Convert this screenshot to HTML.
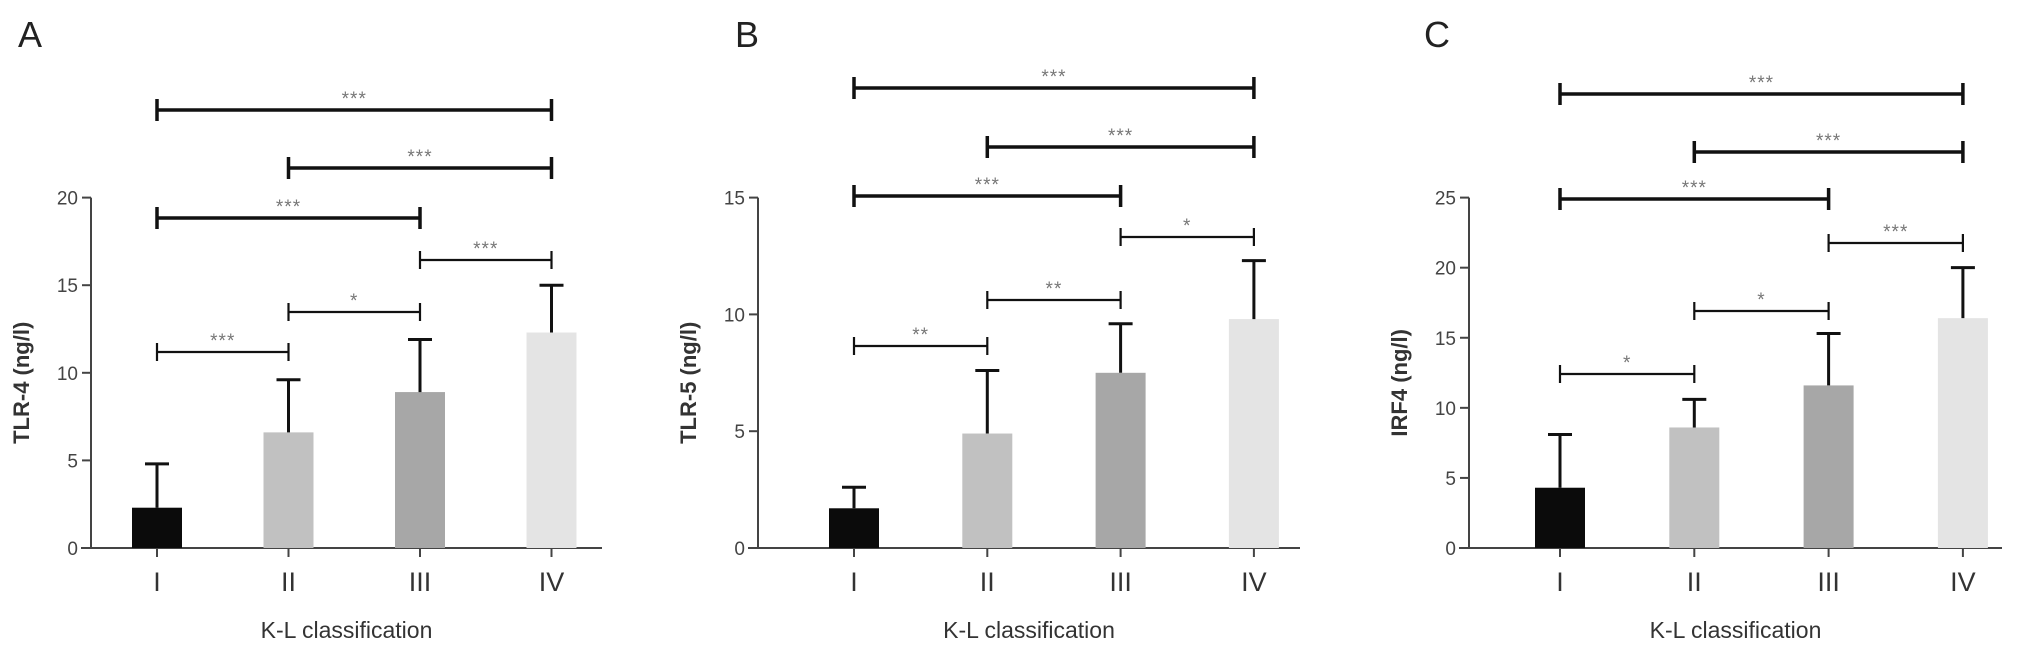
<!DOCTYPE html>
<html><head><meta charset="utf-8">
<style>
html,body{margin:0;padding:0;background:#fff;width:2031px;height:650px;overflow:hidden}
svg text{font-family:"Liberation Sans",Arial,sans-serif}
</style></head>
<body>
<svg id="chart" width="2031" height="650" viewBox="0 0 2031 650" xmlns="http://www.w3.org/2000/svg"></svg>
<script>
const categories = ["I","II","III","IV"];
const barColors = ["#0b0b0b","#c1c1c1","#a7a7a7","#e4e4e4"];
const valuesA = [2.3, 6.6, 8.9, 12.3];
const errTopA = [4.8, 9.6, 11.9, 15.0];
const ticksA = [0, 5, 10, 15, 20];
const valuesB = [1.7, 4.9, 7.5, 9.8];
const errTopB = [2.6, 7.6, 9.6, 12.3];
const ticksB = [0, 5, 10, 15];
const valuesC = [4.3, 8.6, 11.6, 16.4];
const errTopC = [8.1, 10.6, 15.3, 20.0];
const ticksC = [0, 5, 10, 15, 20, 25];
const sigA = [["I","IV","***"],["II","IV","***"],["I","III","***"],["III","IV","***"],["II","III","*"],["I","II","***"]];
const sigB = [["I","IV","***"],["II","IV","***"],["I","III","***"],["III","IV","*"],["II","III","**"],["I","II","**"]];
const sigC = [["I","IV","***"],["II","IV","***"],["I","III","***"],["III","IV","***"],["II","III","*"],["I","II","*"]];

const NS = "http://www.w3.org/2000/svg";
const svg = document.getElementById("chart");
function mk(tag, attrs, parent){
  const e = document.createElementNS(NS, tag);
  for (const k in attrs) e.setAttribute(k, attrs[k]);
  (parent||svg).appendChild(e);
  return e;
}

const panels = [
  {id:"a", letter:"A", lx:18, ax:91, xEnd:602, c0:157, step:131.5, ymax:20, ylab:"TLR-4 (ng/l)", vals:valuesA, errs:errTopA, ticks:ticksA, sig:sigA,
   sigY:[110,168,218,260,312,352]},
  {id:"b", letter:"B", lx:735, ax:758, xEnd:1300, c0:854, step:133.3, ymax:15, ylab:"TLR-5 (ng/l)", vals:valuesB, errs:errTopB, ticks:ticksB, sig:sigB,
   sigY:[88,147,196,237,300,346]},
  {id:"c", letter:"C", lx:1424, ax:1469, xEnd:2002, c0:1560, step:134.3, ymax:25, ylab:"IRF4 (ng/l)", vals:valuesC, errs:errTopC, ticks:ticksC, sig:sigC,
   sigY:[94,152,199,243,311,374]}
];
const Y0 = 548, YTOP = 197.6, BW = 50;

panels.forEach(p => {
  const g = mk("g", {});
  
  
  const yS = v => Y0 - (v / p.ymax) * (Y0 - YTOP);
  const xS = i => p.c0 + i * p.step;

  const title = mk("text", {x:p.lx, y:47, "font-size":36, fill:"#222"}, g);
  title.textContent = p.letter;
  
  

  const yAxis = mk("line", {x1:p.ax, y1:YTOP, x2:p.ax, y2:Y0, stroke:"#444", "stroke-width":2}, g);
  
  
  const xAxis = mk("line", {x1:p.ax-10, y1:Y0, x2:p.xEnd, y2:Y0, stroke:"#444", "stroke-width":2}, g);
  
  

  p.ticks.forEach(t => {
    mk("line", {x1:p.ax-9, y1:yS(t), x2:p.ax, y2:yS(t), stroke:"#444", "stroke-width":2}, g);
    const tl = mk("text", {x:p.ax-13, y:yS(t)+7, "font-size":19, fill:"#444", "text-anchor":"end"}, g);
    tl.textContent = t;
    
    
  });

  const yt = mk("text", {x:0, y:0, "font-size":22, fill:"#333", "font-weight":"bold", "text-anchor":"middle",
    transform:`translate(${p.ax-62},${(Y0+YTOP)/2+10}) rotate(-90)`}, g);
  yt.textContent = p.ylab;
  
  

  categories.forEach((c, i) => {
    const cx = xS(i);
    const bar = mk("rect", {x:cx-BW/2, y:yS(p.vals[i]), width:BW, height:Y0-yS(p.vals[i]), fill:barColors[i]}, g);
    
    
    const eb = mk("path", {d:`M${cx},${yS(p.vals[i])} V${yS(p.errs[i])} M${cx-12},${yS(p.errs[i])} H${cx+12}`,
      stroke:"#111", "stroke-width":3, fill:"none"}, g);
    
    
    mk("line", {x1:cx, y1:Y0, x2:cx, y2:Y0+9, stroke:"#444", "stroke-width":2}, g);
    const xl = mk("text", {x:cx, y:Y0+43, "font-size":27, fill:"#333", "text-anchor":"middle"}, g);
    xl.textContent = c;
    
    
  });

  const xt = mk("text", {x:(p.ax+p.xEnd)/2, y:638, "font-size":23, fill:"#333", "text-anchor":"middle"}, g);
  xt.textContent = "K-L classification";
  
  

  p.sig.forEach((s, k) => {
    const x1 = xS(categories.indexOf(s[0])), x2 = xS(categories.indexOf(s[1]));
    const y = p.sigY[k];
    const thick = k < 3;
    const sw = thick ? 3.5 : 2.2, h = thick ? 11 : 9;
    const br = mk("path", {d:`M${x1},${y-h} V${y+h} M${x1},${y} H${x2} M${x2},${y-h} V${y+h}`,
      stroke:"#111", "stroke-width":sw, fill:"none"}, g);
    
    
    const st = mk("text", {x:(x1+x2)/2, y:y-5, "font-size":19, fill:"#777", "text-anchor":"middle", "letter-spacing":"1"}, g);
    st.textContent = s[2];
    
    
  });
});
</script>
</body></html>
